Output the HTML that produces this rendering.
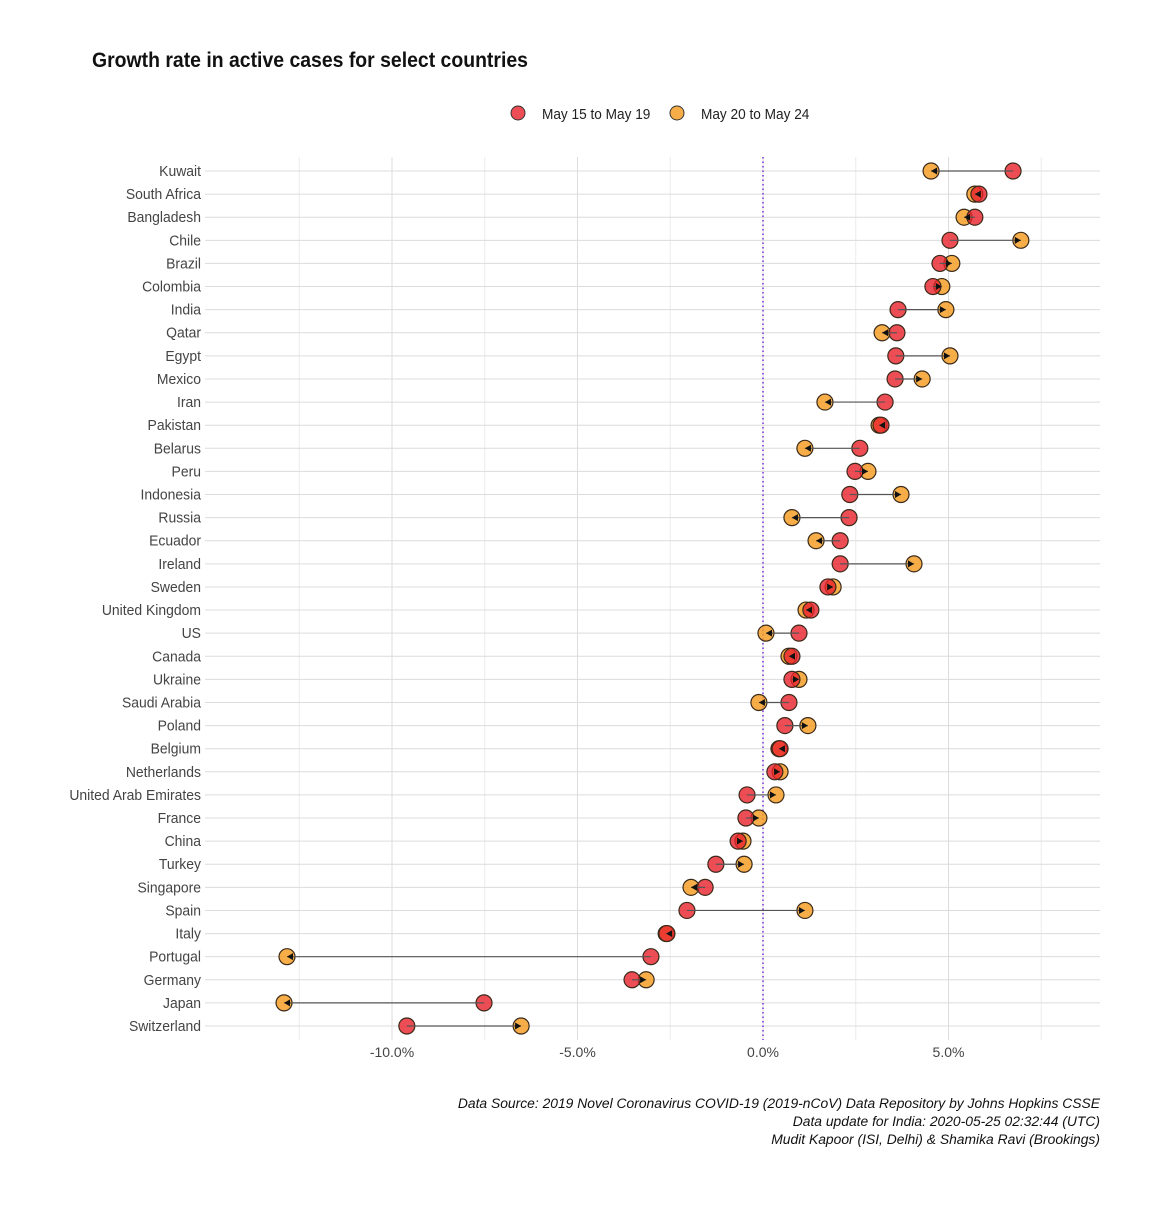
<!DOCTYPE html>
<html><head><meta charset="utf-8"><style>
body{margin:0;background:#fff}
svg text{font-family:"Liberation Sans",sans-serif}
</style></head><body>
<svg id="chart" width="1151" height="1200" xmlns="http://www.w3.org/2000/svg">
<rect width="1151" height="1200" fill="#fff"/>
<text x="92" y="67" font-size="21" font-weight="bold" fill="#111" transform="translate(92,0) scale(0.925,1) translate(-92,0)">Growth rate in active cases for select countries</text>
<g>
<circle cx="518" cy="113" r="7" fill="#e8202a" fill-opacity="0.8" stroke="#333"/>
<text x="542" y="119" font-size="15" fill="#222" transform="translate(542,0) scale(0.91,1) translate(-542,0)">May 15 to May 19</text>
<circle cx="677" cy="113" r="7" fill="#f59a1a" fill-opacity="0.8" stroke="#333"/>
<text x="701" y="119" font-size="15" fill="#222" transform="translate(701,0) scale(0.91,1) translate(-701,0)">May 20 to May 24</text>
</g>
<g id="grid"></g><g id="marks"></g><g id="labels"></g>
<g font-size="14" font-style="italic" fill="#111" text-anchor="end">
<text x="1100" y="1108" transform="translate(1100,0) scale(0.99,1) translate(-1100,0)">Data Source: 2019 Novel Coronavirus COVID-19 (2019-nCoV) Data Repository by Johns Hopkins CSSE</text>
<text x="1100" y="1126" transform="translate(1100,0) scale(0.99,1) translate(-1100,0)">Data update for India: 2020-05-25 02:32:44 (UTC)</text>
<text x="1100" y="1144" transform="translate(1100,0) scale(0.99,1) translate(-1100,0)">Mudit Kapoor (ISI, Delhi) &amp; Shamika Ravi (Brookings)</text>
</g>
</svg>
<script>
const countries=["Kuwait","South Africa","Bangladesh","Chile","Brazil","Colombia","India","Qatar","Egypt","Mexico","Iran","Pakistan","Belarus","Peru","Indonesia","Russia","Ecuador","Ireland","Sweden","United Kingdom","US","Canada","Ukraine","Saudi Arabia","Poland","Belgium","Netherlands","United Arab Emirates","France","China","Turkey","Singapore","Spain","Italy","Portugal","Germany","Japan","Switzerland"];
const may15=[6.74,5.82,5.71,5.04,4.77,4.58,3.64,3.61,3.58,3.56,3.29,3.18,2.61,2.48,2.34,2.32,2.08,2.08,1.75,1.29,0.97,0.78,0.78,0.70,0.59,0.46,0.32,-0.43,-0.46,-0.67,-1.27,-1.56,-2.05,-2.59,-3.02,-3.53,-7.52,-9.60];
const may20=[4.53,5.71,5.42,6.95,5.09,4.82,4.93,3.21,5.04,4.29,1.67,3.13,1.13,2.83,3.72,0.78,1.43,4.07,1.89,1.16,0.08,0.70,0.97,-0.11,1.21,0.43,0.46,0.35,-0.11,-0.54,-0.51,-1.94,1.13,-2.61,-12.83,-3.15,-12.91,-6.52];
const tickVals=[-10,-5,0,5];
const tickLabels=["-10.0%","-5.0%","0.0%","5.0%"];
const minorVals=[-12.5,-7.5,-2.5,2.5,7.5];
const NS="http://www.w3.org/2000/svg";
const X0=205,X1=1100,Y0=157,Y1=1040;
const x=v=>763+v*37.1;
const y=i=>171+i*(1026-171)/(countries.length-1);
function mk(tag,attrs,parent){const e=document.createElementNS(NS,tag);for(const k in attrs)e.setAttribute(k,attrs[k]);parent.appendChild(e);return e;}
const grid=document.getElementById('grid'),marks=document.getElementById('marks'),labels=document.getElementById('labels');
minorVals.forEach(v=>{const l=mk('line',{x1:x(v),x2:x(v),y1:Y0,y2:Y1,stroke:'#ececec','stroke-width':1},grid);

});
tickVals.forEach((v,i)=>{const l=mk('line',{x1:x(v),x2:x(v),y1:Y0,y2:Y1,stroke:'#dcdcdc','stroke-width':1},grid);


const t=mk('text',{x:x(v),y:1057,'font-size':14,fill:'#444','text-anchor':'middle'},labels);t.textContent=tickLabels[i];

});
countries.forEach((c,i)=>{const l=mk('line',{x1:X0,x2:X1,y1:y(i),y2:y(i),stroke:'#dcdcdc','stroke-width':1},grid);


const t=mk('text',{x:201,y:y(i)+5,'font-size':15,fill:'#444','text-anchor':'end',transform:`translate(201,0) scale(0.93,1) translate(-201,0)`},labels);t.textContent=c;

});
const z=mk('line',{x1:x(0),x2:x(0),y1:Y0,y2:Y1,stroke:'#7b2fd6','stroke-width':1.5,'stroke-dasharray':'1.5,3'},grid);


countries.forEach((c,i)=>{const a=x(may15[i]),b=x(may20[i]),yy=y(i);
const g=mk('g',{},marks);


const o=mk('circle',{cx:b,cy:yy,r:8,fill:'#f59a1a','fill-opacity':0.8,stroke:'#3a2a1a','stroke-width':1.2},g);


const r=mk('circle',{cx:a,cy:yy,r:8,fill:'#e8202a','fill-opacity':0.8,stroke:'#3a2a1a','stroke-width':1.2},g);


const s=mk('line',{x1:a,x2:b,y1:yy,y2:yy,stroke:'#555','stroke-width':1.2},g);


const d=b>=a?1:-1;
const ah=mk('polygon',{points:`${b},${yy} ${b-d*6},${yy-3.5} ${b-d*6},${yy+3.5}`,fill:'#111'},g);


});
</script>
</body></html>
